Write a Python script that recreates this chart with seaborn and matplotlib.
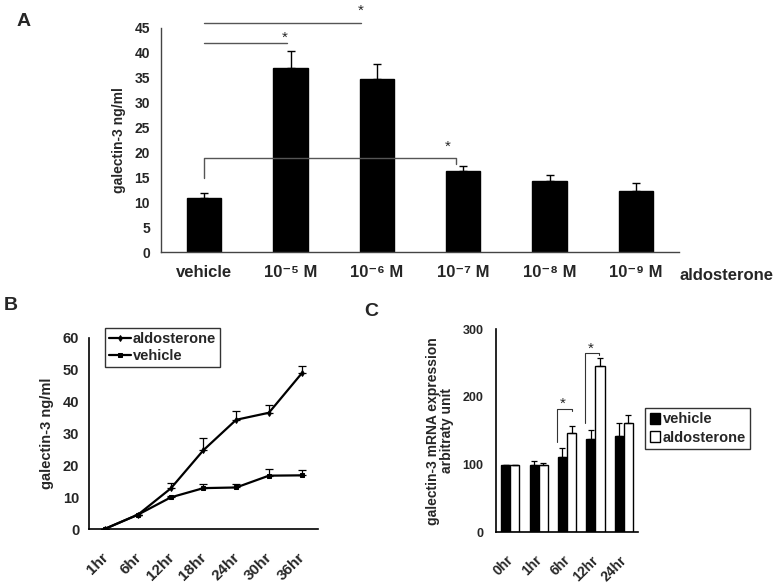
import numpy as np
import pandas as pd
import matplotlib
matplotlib.use('Agg')
import matplotlib.pyplot as plt
import matplotlib.transforms as mtransforms
import seaborn as sns

sns.set_style('white')
plt.rcParams['font.family'] = ['Liberation Sans', 'DejaVu Sans']
plt.rcParams['font.weight'] = 'bold'
plt.rcParams['axes.labelweight'] = 'bold'

# Panel A: galectin-3 secretion vs aldosterone dose
dose_labels = ['vehicle', '10⁻⁵ M', '10⁻⁶ M', '10⁻⁷ M', '10⁻⁸ M', '10⁻⁹ M']
dose_mean = [10.9, 37.0, 34.8, 16.3, 14.4, 12.4]
dose_err = [1.1, 3.4, 2.9, 1.1, 1.2, 1.6]

# Panel B: time course
time_labels = ['1hr', '6hr', '12hr', '18hr', '24hr', '30hr', '36hr']
aldo_mean = [0.2, 4.6, 12.8, 24.8, 34.3, 36.5, 48.8]
aldo_err = [0, 0, 1.8, 3.8, 2.7, 2.4, 2.4]
veh_mean = [0.2, 4.6, 10.0, 12.9, 13.1, 16.8, 16.9]
veh_err = [0, 0, 0.5, 1.3, 1.2, 2.2, 1.6]

# Panel C: mRNA expression
mrna_labels = ['0hr', '1hr', '6hr', '12hr', '24hr']
mrna_vehicle = [100, 100, 111, 138, 143]
mrna_vehicle_err = [0, 6, 13, 13, 19]
mrna_aldo = [100, 100, 147, 246, 162]
mrna_aldo_err = [0, 3, 10, 11, 11]

fig = plt.figure(figsize=(7.82, 5.85), dpi=100)
shift_left = mtransforms.ScaledTranslation(-0.04, 0, fig.dpi_scale_trans)

# ---------------- A ----------------
axA = fig.add_axes([0.2059, 0.5684, 0.6624, 0.3838])
dfA = pd.DataFrame({'dose': dose_labels, 'value': dose_mean})
sns.barplot(data=dfA, x='dose', y='value', color='black', saturation=1,
            width=0.4, edgecolor='black', errorbar=None, ax=axA)
axA.errorbar(np.arange(len(dose_mean)), dose_mean,
             yerr=[np.zeros(len(dose_err)), dose_err],
             fmt='none', ecolor='black', elinewidth=1, capsize=3, capthick=1)
axA.set_xlim(-0.5, 5.5)
axA.set_ylim(0, 45)
axA.set_yticks(np.arange(0, 46, 5))
axA.set_xticks(np.arange(0.5, 6, 1), minor=True)
axA.tick_params(axis='x', which='major', length=0, pad=9, labelsize=12)
axA.tick_params(axis='x', which='minor', direction='in', length=4, color='#444444')
axA.tick_params(axis='y', length=0, pad=8, labelsize=10)
axA.set_xlabel('')
axA.set_ylabel('galectin-3 ng/ml', fontsize=10, labelpad=6)
for s in ['top', 'right']:
    axA.spines[s].set_visible(False)
for s in ['left', 'bottom']:
    axA.spines[s].set_color('#444444')
    axA.spines[s].set_linewidth(1)

# significance marks
sig_col = '#555555'
axA.plot([0, 0.96], [42, 42], color=sig_col, lw=1, clip_on=False)
axA.plot([0, 1.82], [46, 46], color=sig_col, lw=1, clip_on=False)
axA.plot([0, 0, 2.92, 2.92], [15, 19, 19, 17.8], color=sig_col, lw=1)
for xs, ys in [(0.93, 43.1), (1.81, 48.5), (2.82, 21.2)]:
    axA.text(xs, ys, '*', ha='center', va='center', fontsize=11,
             fontweight='normal', clip_on=False)
fig.text(680 / 782, 1 - 276 / 585, 'aldosterone', ha='left', va='center',
         fontsize=12, fontweight='bold')

# ---------------- B ----------------
axB = fig.add_axes([0.1138, 0.0952, 0.2928, 0.3275])
dfB = pd.DataFrame({
    'time': time_labels + time_labels,
    'value': aldo_mean + veh_mean,
    'group': ['aldosterone'] * len(time_labels) + ['vehicle'] * len(time_labels),
})
sns.lineplot(data=dfB, x='time', y='value', style='group',
             markers={'aldosterone': 'd', 'vehicle': 's'}, dashes=False,
             color='black', markersize=3, linewidth=1.6, sort=False,
             markeredgecolor='black', ax=axB)
axB.errorbar(np.arange(len(aldo_mean)), aldo_mean,
             yerr=[np.zeros(len(aldo_err)), aldo_err],
             fmt='none', ecolor='black', elinewidth=0.9, capsize=3, capthick=0.9)
axB.errorbar(np.arange(len(veh_mean)), veh_mean,
             yerr=[np.zeros(len(veh_err)), veh_err],
             fmt='none', ecolor='black', elinewidth=0.9, capsize=3, capthick=0.9)
axB.set_xlim(-0.5, 6.5)
axB.set_ylim(0, 60)
axB.set_yticks(np.arange(0, 61, 10))
axB.set_xticks(np.arange(len(time_labels)))
axB.set_xticks(np.arange(0.5, 7, 1), minor=True)
axB.set_xticklabels(time_labels, rotation=45, ha='right', rotation_mode='anchor')
axB.tick_params(axis='x', which='major', length=0, pad=15, labelsize=11)
axB.tick_params(axis='x', which='minor', direction='in', length=4, width=1)
axB.tick_params(axis='y', length=0, pad=7, labelsize=10.5)
for lab in axB.get_xticklabels():
    lab.set_transform(lab.get_transform() + shift_left)
axB.set_xlabel('')
axB.set_ylabel('galectin-3 ng/ml', fontsize=10.5, labelpad=6)
for s in ['top', 'right']:
    axB.spines[s].set_visible(False)
for s in ['left', 'bottom']:
    axB.spines[s].set_color('black')
    axB.spines[s].set_linewidth(1.2)
h, l = axB.get_legend_handles_labels()
legB = axB.legend(h, l, loc='upper left', bbox_to_anchor=(0.07, 1.05),
                  frameon=True, fancybox=False, edgecolor='black',
                  fontsize=10.5, handlelength=1.5, handletextpad=0.15,
                  labelspacing=0.25, borderpad=0.25, borderaxespad=0)
legB.get_frame().set_linewidth(1)

# ---------------- C ----------------
axC = fig.add_axes([0.6343, 0.0901, 0.1816, 0.347])
dfC = pd.DataFrame({
    'time': mrna_labels + mrna_labels,
    'value': mrna_vehicle + mrna_aldo,
    'group': ['vehicle'] * len(mrna_labels) + ['aldosterone'] * len(mrna_labels),
})
sns.barplot(data=dfC, x='time', y='value', hue='group',
            palette={'vehicle': 'black', 'aldosterone': 'white'}, saturation=1,
            width=0.64, gap=0, edgecolor='black', linewidth=1, errorbar=None, ax=axC)
for cont, vals, errs in zip(axC.containers, [mrna_vehicle, mrna_aldo],
                            [mrna_vehicle_err, mrna_aldo_err]):
    xs = [p.get_x() + p.get_width() / 2 for p in cont]
    axC.errorbar(xs, vals, yerr=[np.zeros(len(errs)), errs], fmt='none',
                 ecolor='black', elinewidth=0.9, capsize=2.5, capthick=0.9)
axC.set_xlim(-0.5, 4.5)
axC.set_ylim(0, 300)
axC.set_yticks([0, 100, 200, 300])
axC.set_xticks(np.arange(0.5, 5, 1), minor=True)
axC.set_xticks(np.arange(len(mrna_labels)))
axC.set_xticklabels(mrna_labels, rotation=45, ha='right', rotation_mode='anchor')
axC.tick_params(axis='x', which='major', length=0, pad=15, labelsize=10)
axC.tick_params(axis='x', which='minor', direction='in', length=4, width=1)
axC.tick_params(axis='y', direction='in', length=4, width=1, pad=9, labelsize=9)
for lab in axC.get_xticklabels():
    lab.set_transform(lab.get_transform() + shift_left)
axC.set_xlabel('')
axC.set_ylabel('galectin-3 mRNA expression\narbitraty unit', fontsize=10,
               labelpad=6, linespacing=1.0)
for s in ['top', 'right']:
    axC.spines[s].set_visible(False)
for s in ['left', 'bottom']:
    axC.spines[s].set_color('black')
    axC.spines[s].set_linewidth(1.2)

axC.plot([1.64, 1.64, 2.19, 2.19], [134, 182, 182, 179], color='#333333', lw=0.8)
axC.plot([2.62, 2.62, 3.11, 3.11], [161, 264.5, 264.5, 262], color='#333333', lw=0.8)
for xs, ys in [(1.85, 190), (2.84, 271)]:
    axC.text(xs, ys, '*', ha='center', va='center', fontsize=11, fontweight='normal')

h, l = axC.get_legend_handles_labels()
legC = axC.legend(h, l, loc='upper left', bbox_to_anchor=(1.05, 0.612),
                  frameon=True, fancybox=False, edgecolor='black', fontsize=10.5,
                  handlelength=0.7, handleheight=0.8, handletextpad=0.2,
                  labelspacing=0.3, borderpad=0.3, borderaxespad=0)
legC.get_frame().set_linewidth(1)

# panel letters
fig.text(24 / 782, 1 - 21 / 585, 'A', fontsize=14, fontweight='bold', ha='center', va='center')
fig.text(11 / 782, 1 - 306 / 585, 'B', fontsize=14, fontweight='bold', ha='center', va='center')
fig.text(371 / 782, 1 - 312 / 585, 'C', fontsize=14, fontweight='bold', ha='center', va='center')

fig.savefig('out.png', dpi=100)
